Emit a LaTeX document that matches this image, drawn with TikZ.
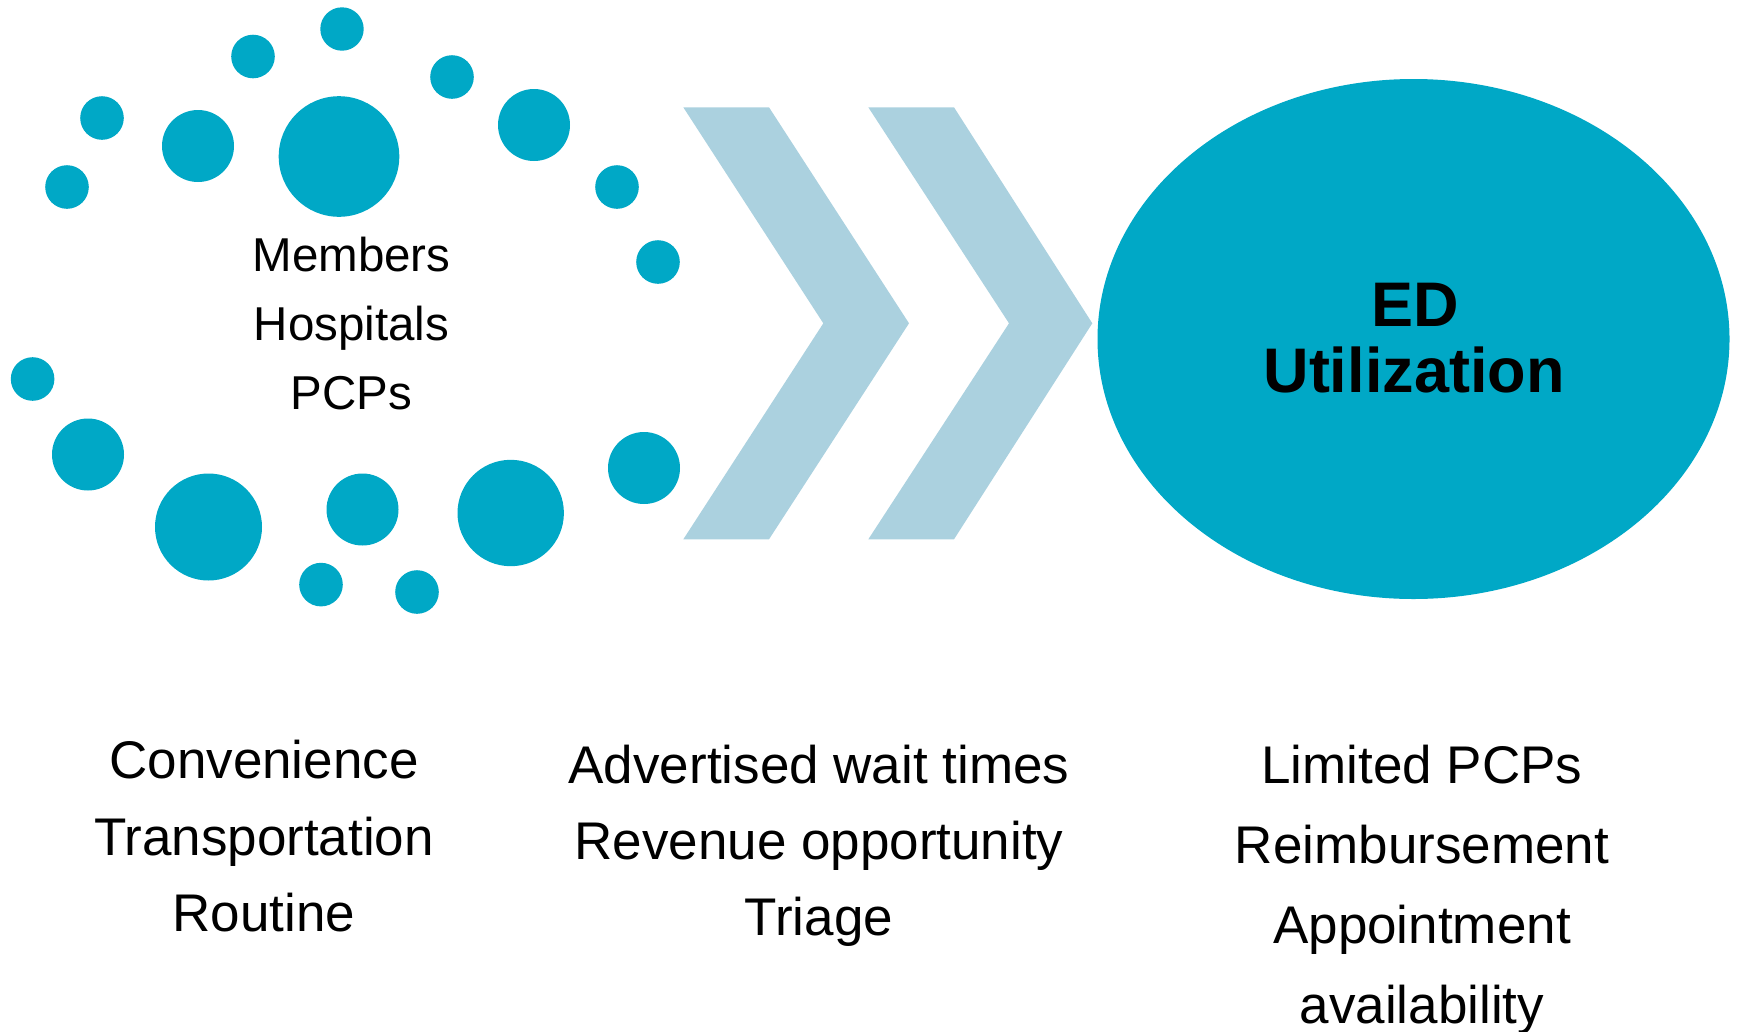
\documentclass[tikz,border=0pt]{standalone}
\usepackage{fontspec}
\setmainfont{Liberation Sans}
\definecolor{dotblue}{RGB}{0,168,198}
\definecolor{chevblue}{RGB}{171,209,223}
\begin{document}
\begin{tikzpicture}[x=1pt,y=-1pt,
  dotfill/.style={fill=dotblue},
  chevfill/.style={fill=chevblue},
  lbl/.style={font=\fontsize{53}{60}\selectfont, anchor=base, inner sep=0pt},
  mid/.style={font=\fontsize{47.5}{55}\selectfont, anchor=base, inner sep=0pt},
  edlbl/.style={font=\fontsize{63}{70}\selectfont\bfseries, anchor=base, inner sep=0pt}]
\useasboundingbox (0,0) rectangle (1739,1031);
% dots
\foreach \cx/\cy/\r in {342/29/21.7, 253/56.5/21.8, 452/77/21.8, 102/118/21.8,
  198/146/36, 339/156.5/60.3, 534/125/36, 67/187/21.8, 617/187/21.8, 658/262/21.8,
  32.6/379/21.8, 88/454.5/36, 208.5/527/53.5, 362.5/509.5/36, 510.7/513/53.2,
  644/468/36, 321/584.6/21.8, 417/592/21.8}
  \fill[dotfill] (\cx,\cy) circle[radius=\r pt];
% chevrons
\fill[chevfill] (683.3,107.3) -- (769,107.3) -- (909,323.3) -- (769,539.3) -- (683.3,539.3) -- (823.3,323.3) -- cycle;
\fill[chevfill] (868.3,107.3) -- (954,107.3) -- (1092.3,323.3) -- (954,539.3) -- (868.3,539.3) -- (1009,323.3) -- cycle;
% big ellipse
\fill[dotfill] (1413.5,339) ellipse[x radius=316pt, y radius=260pt];
% labels
\node[edlbl] (ed1) at (1415,326.4) {ED};
\node[edlbl] (ed2) at (1414,392.6) {Utilization};
\node[mid] (m1) at (351.5,271) {Members};
\node[mid] (m2) at (351.5,340) {Hospitals};
\node[mid] (m3) at (351.5,409) {PCPs};
\node[lbl] (a1) at (264,778) {Convenience};
\node[lbl] (a2) at (264,855) {Transportation};
\node[lbl] (a3) at (264,931) {Routine};
\node[lbl] (b1) at (819,783) {Advertised wait times};
\node[lbl] (b2) at (819,859) {Revenue opportunity};
\node[lbl] (b3) at (819,935) {Triage};
\node[lbl] (c1) at (1422,783.3) {Limited PCPs};
\node[lbl] (c2) at (1422,863.3) {Reimbursement};
\node[lbl] (c3) at (1422,943.3) {Appointment};
\node[lbl] (c4) at (1422,1023.3) {availability};
\end{tikzpicture}
\end{document}
